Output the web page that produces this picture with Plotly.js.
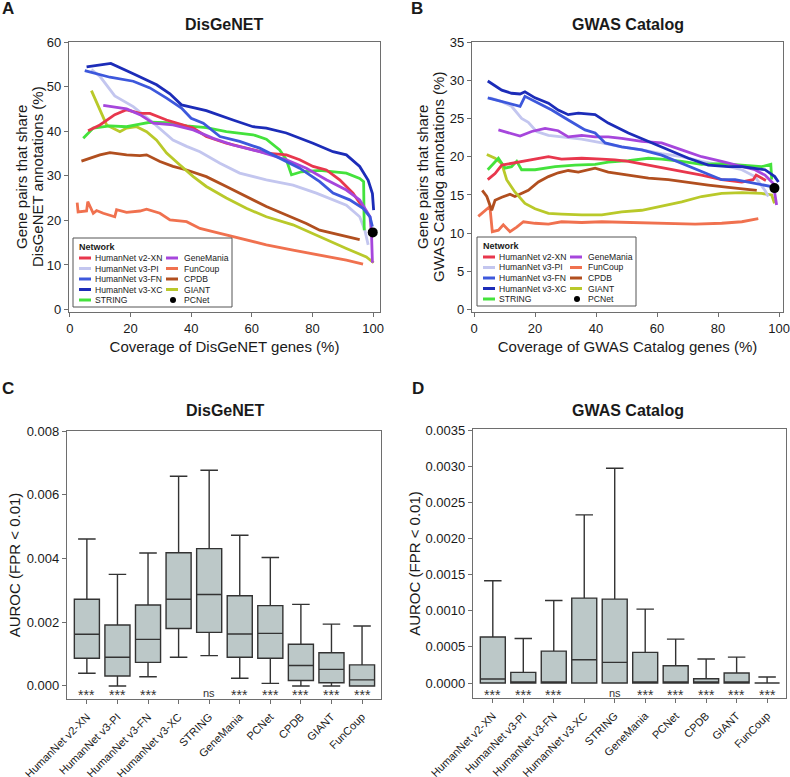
<!DOCTYPE html>
<html>
<head>
<meta charset="utf-8">
<script src="https://cdn.plot.ly/plotly-3.0.1.min.js"></script>
<style>html,body{margin:0;padding:0;background:#fff;}#chart{width:790px;height:777px;}</style>
</head>
<body>
<div id="chart"></div>
<script>
// ---------------- DATA ----------------
const networks = ['HumanNet v2-XN','HumanNet v3-PI','HumanNet v3-FN','HumanNet v3-XC','STRING','GeneMania','FunCoup','CPDB','GIANT','PCNet'];
const colors = {
  'HumanNet v2-XN':'#e8374d','HumanNet v3-PI':'#c3c6ef','HumanNet v3-FN':'#3d58dc','HumanNet v3-XC':'#1c2cb8',
  'STRING':'#44e23c','GeneMania':'#a646dc','FunCoup':'#f0714f','CPDB':'#b14f1f','GIANT':'#b9c92a','PCNet':'#000000'
};

// Panel A: DisGeNET coverage (x, %) vs shared annotations (y, %)
const A_v2XN_x = [6,9.9,14.8,18.7,23.1,26.4,31.9,36.8,40.7,45,51.6,58.2,64.8,71.4,75.8,80.2,84.6,89,93.4,96.5];
const A_v2XN_y = [40.1,41.4,43.7,44.8,44,44,42.5,41.4,40.7,38.8,37.3,36.2,35.1,34.7,33.6,32.1,31.3,29.1,26.1,23];
const A_v3PI_x = [7.1,9.9,14.8,20.9,26.4,34,38.5,42.9,49.5,56,64.8,73.6,81.3,86.8,91.2,95.6,97.3,98.4];
const A_v3PI_y = [53.8,52.3,47.9,45.5,42.5,38,36.6,35.4,32.8,30.6,29.1,27.9,26.1,24.6,23.4,20.8,17.8,14.5];
const A_v3FN_x = [4.9,13.2,20.9,26.4,31.9,36.8,40,44,49.5,56,62.6,69.2,75.8,82.4,86.8,92.3,96.7,99,99.8];
const A_v3FN_y = [53.6,52.1,51.2,49.7,47.4,45.2,42.9,41.8,38.8,37.7,36.2,33.9,31.7,28.7,26.1,24.6,22.7,20.8,18.6];
const A_v3XC_x = [5.5,13.5,20.9,28.6,33,36.8,40,45,53.8,60.4,64.8,71.4,80.2,86.8,91.2,95.6,98.4,99.8,100.2];
const A_v3XC_y = [54.4,55.2,52.9,50.4,48.4,45.9,45.4,44.6,42.5,41,40.7,39.6,37.3,35.4,34.7,32.1,29,26,22.3];
const A_STRING_x = [4.4,7.7,13.2,18.7,23.1,26.4,31.9,38.5,45,51.6,60.4,64.8,69.2,71.4,73.1,76.4,82.4,91.2,95.6,96.9,97.1];
const A_STRING_y = [38.4,40.7,41.2,41,41.6,42,41.9,41.2,40.8,39.9,39.2,38.2,35.8,33.6,30.2,30.9,31.2,30.6,29.4,28.7,17.8];
const A_GeneMania_x = [11,18.7,23.1,27.5,34,40.7,47.3,53.8,62.6,71.4,78,84.6,91.2,95.6,99,99.5,99.8];
const A_GeneMania_y = [45.8,45,43.7,41.8,41.4,40.3,38.4,36.9,35.4,33.6,31.7,29.1,26.8,24.6,20.8,17,10.5];
const A_FunCoup_x = [2.4,2.7,5.5,5.9,7.7,8.8,11,14.8,15.4,18.7,23.1,25.3,29.7,33,38.5,42.9,49.5,56,64.8,73.6,82.4,91.2,96.7];
const A_FunCoup_y = [24,21.9,22.1,24.2,21.6,22.2,21.6,20.8,22.4,21.8,22.1,22.5,21.6,20.1,19.7,18.2,17.1,16,14.5,13.3,12.2,11.1,10.2];
const A_CPDB_x = [3.8,9.9,13.2,18.7,23.1,25.3,29.7,34,38.5,45,51.6,58.2,64.8,71.4,78,82.4,86.8,91.2,95.6];
const A_CPDB_y = [33.3,34.7,35.2,34.7,34.5,34.7,33.2,32.1,31.3,29.8,27.6,25.3,23.1,21.2,19.3,17.8,17.1,16.3,15.7];
const A_GIANT_x = [7.1,9.9,12.1,16.5,18.7,22,25.3,28.6,31.9,36.3,40.7,45,51.6,58.2,64.8,73.6,82.4,91.2,97.8,100.2];
const A_GIANT_y = [49.1,44.8,41.4,39.9,40.7,41,39.9,38,35.1,32.4,29.8,27.6,25,22.7,20.8,19,16.3,13.7,11.8,10.5];
const A_PCNet_x = [99.9];
const A_PCNet_y = [17.3];

// Panel B: GWAS Catalog
const B_v2XN_x = [4.5,6.9,9.1,15.6,20,24.4,28.7,35.3,41.9,46.2,50.6,57.2,61.5,68.1,74.6,81.2,87.8,91.5,92.5,95.7];
const B_v2XN_y = [17,17.8,18.9,19.4,19.7,20,19.7,19.8,19.7,19.6,19.4,18.9,18.5,18,17.6,17,16.7,17,17.6,16.9];
const B_v3PI_x = [5.2,9.1,12.3,15.6,17.8,20.5,24.4,30.9,35.3,41.9,48.4,55,61.5,68.1,74.6,81.2,87.8,92.1,95.4,96.5];
const B_v3PI_y = [27.7,27.2,26.6,25,24.5,23.3,22.8,22.5,22.3,21.8,21.3,20.9,20.4,20,19.4,18.9,18.3,17.4,15.6,14.8];
const B_v3FN_x = [4.5,10.2,15.1,16.7,20,25.5,30.9,36.4,39.7,43,48.4,55,61.5,68.1,74.6,81.2,85.6,89.9,94.3,97.6,98.6];
const B_v3FN_y = [27.7,27.1,26.6,27.9,27.2,26.1,24.8,23.5,23.1,21.8,21.3,20.9,20.2,19.1,18,17,17,16.7,16.4,16.1,15.9];
const B_v3XC_x = [4.5,9.1,12.3,15.1,16.7,20,24.4,27.6,30.9,34.2,39.7,44,50.6,57.2,63.7,70.3,76.8,83.4,87.8,92.1,95.4,98.6,99.8];
const B_v3XC_y = [29.9,28.7,28.3,28.2,28.5,27.7,27,26.1,25.5,25.7,25.5,24.4,23.1,22,20.9,19.8,18.9,18.7,18.7,18.5,18.3,17.4,16.7];
const B_STRING_x = [4.5,8,10.2,12.3,14,15.6,20,26.6,33.1,39.7,44,50.6,57.2,61.5,68.1,74.6,81.2,87.8,94.3,97.3,97.6];
const B_STRING_y = [18.3,19.8,18.5,18.7,19.4,18.3,18.3,18.7,18.9,19,19.3,19.5,19.8,19.7,19.4,19,19.1,18.9,18.7,19,17];
const B_GeneMania_x = [8,11.3,15.1,18.9,23.3,27.6,30.9,35.3,39.7,44,48.4,55,61.5,68.1,74.6,81.2,87.8,92.1,95.4,98.1,99.2];
const B_GeneMania_y = [23.5,23.1,22.7,23.3,23.7,23.4,22.6,22.8,22.6,22.6,22.4,22,21.8,20.9,20,19.4,18.7,18.3,17.6,16.5,13.7];
const B_FunCoup_x = [1.4,3.6,5.2,6,8,9.6,11.8,14,16.2,20,24.4,28.7,35.3,41.9,50.6,61.5,72.5,81.2,87.8,93.2];
const B_FunCoup_y = [12.2,13,13.5,10.2,10.4,11.1,10.2,10.8,11.5,11.3,11.2,11.5,11.4,11.5,11.4,11.3,11.2,11.3,11.5,11.9];
const B_CPDB_x = [2.7,4.2,5.8,6.9,9.1,11.8,13.4,15.6,17.8,21.1,24.4,27.6,30.9,34.2,39.7,44,50.6,57.2,63.7,70.3,76.8,83.4,89.9,92.7];
const B_CPDB_y = [15.6,14.8,13,14.3,14.7,15.1,14.8,15.2,15.6,16.7,17.4,17.9,18.2,18,18.5,18,17.6,17.2,17,16.6,16.3,16,15.7,15.6];
const B_GIANT_x = [4.2,6.9,9.1,10.7,13.4,16.7,20,24.4,28.7,35.3,41.9,48.4,55,61.5,68.1,74.6,81.2,87.8,94.3,97.6,98.5];
const B_GIANT_y = [20.3,19.8,19.1,17,15.4,13.9,13.2,12.6,12.5,12.4,12.4,12.8,13,13.5,14.1,14.8,15.2,15.3,15.2,15,13.9];
const B_PCNet_x = [98.5];
const B_PCNet_y = [15.9];

// Panels C / D: box plot summaries
const boxCats = ['HumanNet v2-XN','HumanNet v3-PI','HumanNet v3-FN','HumanNet v3-XC','STRING','GeneMania','PCNet','CPDB','GIANT','FunCoup'];
const C_low = [0.00040,0.00000,0.00029,0.00090,0.00095,0.00024,0.00008,0.00000,0.00000,0.00000];
const C_q1  = [0.00087,0.00031,0.00074,0.00180,0.00168,0.00090,0.00087,0.00017,0.00010,0.00000];
const C_med = [0.00162,0.00090,0.00146,0.00272,0.00287,0.00163,0.00165,0.00064,0.00052,0.00019];
const C_q3  = [0.00272,0.00191,0.00254,0.00418,0.00431,0.00283,0.00252,0.00131,0.00104,0.00066];
const C_up  = [0.00461,0.00350,0.00417,0.00658,0.00677,0.00473,0.00403,0.00256,0.00194,0.00188];
const C_sig = ['***','***','***','','ns','***','***','***','***','***'];

const D_low = [0,0,0,0,0,0,0,0,0,0];
const D_q1  = [0,0,0,0,0,0,0,0,0,0];
const D_med = [0.000055,0,0,0.000322,0.000286,0,0,0,0,0];
const D_q3  = [0.000636,0.000147,0.000442,0.001175,0.001161,0.000424,0.000240,0.000060,0.000138,0];
const D_up  = [0.001414,0.000617,0.001142,0.002326,0.002971,0.001023,0.000608,0.000332,0.000359,0.000083];
const D_sig = ['***','***','***','','ns','***','***','***','***','***'];

// ---------------- BUILD ----------------
const W = 790, H = 777;
const FONT = 'Liberation Sans, Arial, Helvetica, sans-serif';
const TXT = '#1a1a1a';
const px = v => v / W;
const py = v => 1 - v / H;

const seriesA = {
  'HumanNet v2-XN':[A_v2XN_x,A_v2XN_y],'HumanNet v3-PI':[A_v3PI_x,A_v3PI_y],'HumanNet v3-FN':[A_v3FN_x,A_v3FN_y],
  'HumanNet v3-XC':[A_v3XC_x,A_v3XC_y],'STRING':[A_STRING_x,A_STRING_y],'GeneMania':[A_GeneMania_x,A_GeneMania_y],
  'FunCoup':[A_FunCoup_x,A_FunCoup_y],'CPDB':[A_CPDB_x,A_CPDB_y],'GIANT':[A_GIANT_x,A_GIANT_y],'PCNet':[A_PCNet_x,A_PCNet_y]
};
const seriesB = {
  'HumanNet v2-XN':[B_v2XN_x,B_v2XN_y],'HumanNet v3-PI':[B_v3PI_x,B_v3PI_y],'HumanNet v3-FN':[B_v3FN_x,B_v3FN_y],
  'HumanNet v3-XC':[B_v3XC_x,B_v3XC_y],'STRING':[B_STRING_x,B_STRING_y],'GeneMania':[B_GeneMania_x,B_GeneMania_y],
  'FunCoup':[B_FunCoup_x,B_FunCoup_y],'CPDB':[B_CPDB_x,B_CPDB_y],'GIANT':[B_GIANT_x,B_GIANT_y],'PCNet':[B_PCNet_x,B_PCNet_y]
};
const drawOrder = ['FunCoup','CPDB','GIANT','HumanNet v3-PI','STRING','HumanNet v2-XN','GeneMania','HumanNet v3-FN','HumanNet v3-XC','PCNet'];

const traces = [];
function addLines(series, xa, ya) {
  drawOrder.forEach(n => {
    const [xs, ys] = series[n];
    if (n === 'PCNet') {
      traces.push({type:'scatter', mode:'markers', x:xs, y:ys, xaxis:xa, yaxis:ya, name:n,
        marker:{color:colors[n], size:10}, showlegend:false, hoverinfo:'skip'});
    } else {
      traces.push({type:'scatter', mode:'lines', x:xs, y:ys, xaxis:xa, yaxis:ya, name:n,
        line:{color:colors[n], width:2.8}, showlegend:false, hoverinfo:'skip'});
    }
  });
}
addLines(seriesA, 'x', 'y');
addLines(seriesB, 'x2', 'y2');

function addBox(xa, ya, low, q1, med, q3, up) {
  traces.push({type:'box', x:boxCats, q1:q1, median:med, q3:q3, lowerfence:low, upperfence:up,
    xaxis:xa, yaxis:ya, fillcolor:'#bcc8c8', line:{color:'#333333', width:1.4},
    whiskerwidth:0.7, width:0.82, boxpoints:false, showlegend:false, hoverinfo:'skip'});
}
addBox('x3','y3', C_low, C_q1, C_med, C_q3, C_up);
addBox('x4','y4', D_low, D_q1, D_med, D_q3, D_up);

const annotations = [];
const shapes = [];

// panel letters and titles
[['A',8,9],['B',417,9],['C',8,388],['D',418,388]].forEach(([t,x,y]) => annotations.push({
  text:'<b>'+t+'</b>', xref:'paper', yref:'paper', x:px(x), y:py(y), xanchor:'center', yanchor:'middle',
  showarrow:false, font:{family:FONT, size:17, color:TXT}}));
[['DisGeNET',224,25],['GWAS Catalog',628,25],['DisGeNET',225,410],['GWAS Catalog',628,410]].forEach(([t,x,y]) => annotations.push({
  text:'<b>'+t+'</b>', xref:'paper', yref:'paper', x:px(x), y:py(y), xanchor:'center', yanchor:'middle',
  showarrow:false, font:{family:FONT, size:16, color:TXT}}));

// two-line y titles of panels A and B (one text per line, rotated)
[['Gene pairs that share',21,177],['DisGeNET annotations (%)',37,177],
 ['Gene pairs that share',422,177],['GWAS Catalog annotations (%)',438,177]].forEach(([t,x,y]) => annotations.push({
  text:t, xref:'paper', yref:'paper', x:px(x), y:py(y), xanchor:'center', yanchor:'middle', textangle:-90,
  showarrow:false, font:{family:FONT, size:15, color:TXT}}));

// significance marks
function addSig(xa, ya, sig, yStar, yNs) {
  boxCats.forEach((c, i) => {
    if (!sig[i]) return;
    const ns = sig[i] === 'ns';
    annotations.push({text:sig[i], xref:xa, yref:ya, x:c, y: ns ? yNs : yStar, xanchor:'center', yanchor:'middle',
      showarrow:false, font:{family:FONT, size: ns ? 11 : 14, color:'#333'}});
  });
}
addSig('x3','y3', C_sig, -0.00029, -0.00022);
addSig('x4','y4', D_sig, -0.000168, -0.000135);

// legends (two-column, as in the figure)
const col1 = networks.slice(0,5), col2 = networks.slice(5);
function addLegend(left, top) {
  shapes.push({type:'rect', xref:'paper', yref:'paper', x0:px(left), x1:px(left+159), y0:py(top+69), y1:py(top),
    line:{color:'#555', width:1}, fillcolor:'#ffffff', layer:'above'});
  annotations.push({text:'<b>Network</b>', xref:'paper', yref:'paper', x:px(left+4), y:py(top+9),
    xanchor:'left', yanchor:'middle', showarrow:false, font:{family:FONT, size:9, color:TXT}});
  const rows = [20, 30.5, 41, 51.5, 62];
  [[col1, 6, 20], [col2, 93, 109]].forEach(([names, lx, tx]) => {
    names.forEach((n, i) => {
      const yy = top + rows[i];
      if (n === 'PCNet') {
        shapes.push({type:'circle', xref:'paper', yref:'paper', x0:px(left+lx+4), x1:px(left+lx+10),
          y0:py(yy+3), y1:py(yy-3), fillcolor:'#000', line:{color:'#000', width:0}, layer:'above'});
      } else {
        shapes.push({type:'line', xref:'paper', yref:'paper', x0:px(left+lx), x1:px(left+lx+12),
          y0:py(yy), y1:py(yy), line:{color:colors[n], width:3}, layer:'above'});
      }
      annotations.push({text:n, xref:'paper', yref:'paper', x:px(left+tx), y:py(yy),
        xanchor:'left', yanchor:'middle', showarrow:false, font:{family:FONT, size:8.6, color:TXT}});
    });
  });
}
addLegend(73, 238);
addLegend(477, 237);

// axes
const tickFont = {family:FONT, size:13, color:TXT};
const titleFont = {family:FONT, size:15, color:TXT};
const baseAx = {showline:true, mirror:true, linecolor:'#6e6e6e', linewidth:1.2, ticks:'outside', ticklen:4,
  tickcolor:'#6e6e6e', tickwidth:1, showgrid:false, zeroline:false, tickfont:tickFont};
const catTickFont = {family:FONT, size:11, color:TXT};

const layout = {
  width:W, height:H, margin:{l:0,r:0,t:0,b:0}, paper_bgcolor:'#fff', plot_bgcolor:'#fff',
  font:{family:FONT, color:TXT}, showlegend:false,
  xaxis: Object.assign({}, baseAx, {domain:[px(69), px(380)], range:[-0.3,102.3], tickvals:[0,20,40,60,80,100],
    anchor:'y', title:{text:'Coverage of DisGeNET genes (%)', font:titleFont, standoff:6}}),
  yaxis: Object.assign({}, baseAx, {domain:[py(312), py(42)], range:[-0.55,60], tickvals:[0,10,20,30,40,50,60],
    anchor:'x'}),
  xaxis2: Object.assign({}, baseAx, {domain:[px(472), px(783)], range:[-0.66,101.3], tickvals:[0,20,40,60,80,100],
    anchor:'y2', title:{text:'Coverage of GWAS Catalog genes (%)', font:titleFont, standoff:6}}),
  yaxis2: Object.assign({}, baseAx, {domain:[py(312), py(42)], range:[-0.3,35], tickvals:[0,5,10,15,20,25,30,35],
    anchor:'x2'}),
  xaxis3: Object.assign({}, baseAx, {domain:[px(67), px(381)], range:[-0.65,9.62], type:'category',
    tickangle:-45, anchor:'y3', tickfont:catTickFont, ticklabelstandoff:2}),
  yaxis3: Object.assign({}, baseAx, {domain:[py(699), py(431)], range:[-0.00041,0.008], tickvals:[0,0.002,0.004,0.006,0.008],
    tickformat:'.3f', anchor:'x3', title:{text:'AUROC (FPR < 0.01)', font:titleFont, standoff:2}}),
  xaxis4: Object.assign({}, baseAx, {domain:[px(473), px(786)], range:[-0.65,9.62], type:'category',
    tickangle:-45, anchor:'y4', tickfont:catTickFont, ticklabelstandoff:2}),
  yaxis4: Object.assign({}, baseAx, {domain:[py(698), py(429)], range:[-0.000207,0.003514],
    tickvals:[0,0.0005,0.001,0.0015,0.002,0.0025,0.003,0.0035], tickformat:'.4f', anchor:'x4',
    title:{text:'AUROC (FPR < 0.01)', font:titleFont, standoff:1}}),
  annotations: annotations,
  shapes: shapes
};

Plotly.newPlot('chart', traces, layout, {staticPlot:true, displayModeBar:false});
</script>
</body>
</html>
